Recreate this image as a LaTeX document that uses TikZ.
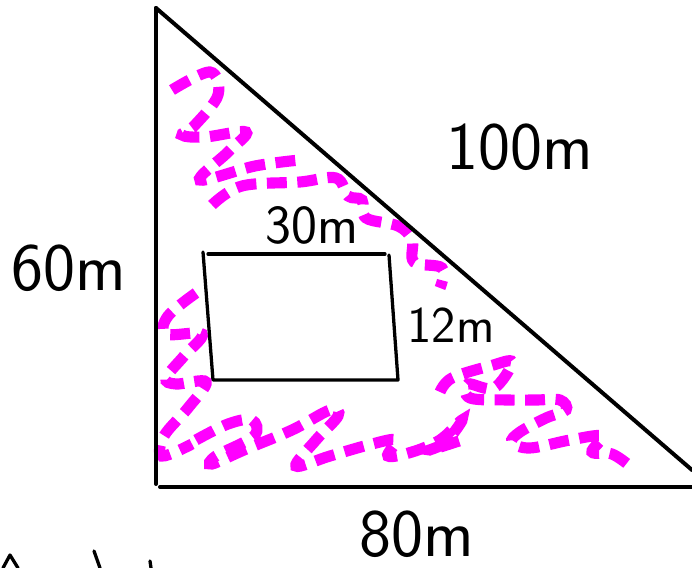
\documentclass[tikz,border=0pt]{standalone}
\usepackage{tikz}
\usetikzlibrary{positioning,calc}
\definecolor{scribmag}{RGB}{255,0,255}

\begin{document}
\begin{tikzpicture}[
  x=0.03cm, y=-0.03cm,
  edge/.style={line width=3.4pt, line cap=round, line join=round},
  plot/.style={line width=2.8pt, line cap=round, line join=round},
  scrib/.style={scribmag, line width=9.5pt, dash pattern=on 17pt off 9pt,
                smooth, tension=0.6},
  lbl/.style={font=\sffamily, inner sep=0pt}
]
\useasboundingbox (0,0) rectangle (692,568);

% Shading scribbles (under the outlines)
\draw[scrib] plot coordinates {(172,90) (210,72) (218,95) (195,125) (182,135) (205,137) (246,132) (228,152) (200,180) (255,166) (300,160)};
\draw[scrib] plot coordinates {(212,205) (242,186) (300,182) (336,178) (348,196) (362,200) (366,218) (398,226) (412,240) (414,262) (442,268) (440,288)};
\draw[scrib] plot coordinates {(196,293) (168,316) (166,334) (202,334) (184,356) (166,378) (176,384) (206,382) (188,408) (164,436) (162,456) (192,444)};
\draw[scrib] plot coordinates {(196,440) (228,424) (252,420) (254,436) (216,456) (212,464) (244,450) (292,430) (330,410) (338,416) (316,440) (296,466) (330,456) (372,444) (396,440) (388,456) (412,452) (440,440) (462,420) (446,442) (430,450) (462,440)};
\draw[scrib] plot coordinates {(440,392) (452,378) (490,366) (512,362) (494,388) (468,384) (470,398) (508,400) (536,400) (560,400) (566,410) (546,418) (520,432) (512,442) (530,448) (570,440) (602,436) (592,452) (612,454) (630,466)};

% Triangle
\coordinate (T) at (156,8);
\coordinate (B) at (156,484);
\coordinate (R) at (692,470);
\draw[edge] (T) -- (B);
\draw[edge] (160,487) -- (692,487);
\draw[edge] (T) -- (R);

% Inner plot
\draw[plot] (203,252) -- (213,380) -- (398,380) -- (389,255);
\draw[plot] (208,254) -- (385,254);

% Side labels
\node[lbl, font=\sffamily\fontsize{58}{58}\selectfont] (west) at (69,268) {60m};
\node[lbl, font=\sffamily\fontsize{58}{58}\selectfont] (hyp) at (520,147) {100m};
\node[lbl, font=\sffamily\fontsize{58}{58}\selectfont] (south) at (417,534) {80m};
\node[lbl, font=\sffamily\fontsize{47}{47}\selectfont] (top) at (312,225) {30m};
\node[lbl, font=\sffamily\fontsize{44}{44}\selectfont] (east) at (451,325) {12m};

% Cut-off writing at the bottom
\draw[plot] (3,568) -- (10,555) -- (18,568);
\draw[plot] (94,551) -- (100,568);
\draw[plot] (150,561) -- (151,568);
\end{tikzpicture}
\end{document}
